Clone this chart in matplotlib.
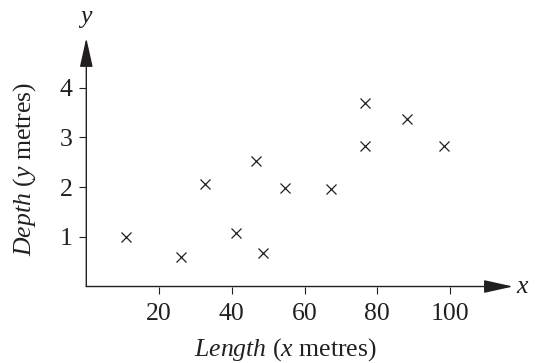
import matplotlib.pyplot as plt

# Depth vs length readings
length = [11, 26, 32.6, 41.1, 46.7, 48.5, 54.5, 67.2, 76.6, 76.6, 88.3, 98.4]
depth = [1.0, 0.6, 2.06, 1.07, 2.53, 0.68, 1.99, 1.96, 3.70, 2.83, 3.38, 2.83]
xticks = [20, 40, 60, 80, 100]
yticks = [1, 2, 3, 4]

ink = '#231f20'
plt.rcParams['font.family'] = 'Liberation Serif'
plt.rcParams['mathtext.fontset'] = 'custom'
plt.rcParams['mathtext.rm'] = 'Liberation Serif'
plt.rcParams['mathtext.it'] = 'Liberation Serif:italic'

fig = plt.figure(figsize=(5.36, 3.63), dpi=100)
ax = fig.add_axes([0.161, 0.2107, 0.796, 0.6846])

ax.plot(length, depth, linestyle='none', marker='x', markersize=6.5,
        markeredgewidth=0.9, color=ink)

ax.set_xlim(0, 117.3)
ax.set_ylim(0, 5)
for s in ax.spines.values():
    s.set_visible(False)

# axes drawn as arrows
arrow = dict(arrowstyle='-|>,head_length=1.8,head_width=0.4', lw=1.0,
             color=ink, shrinkA=0, shrinkB=0)
ax.annotate('', xy=(1, 0), xytext=(0, 0), xycoords='axes fraction',
            textcoords='axes fraction', arrowprops=arrow, annotation_clip=False)
ax.annotate('', xy=(0, 1), xytext=(0, 0), xycoords='axes fraction',
            textcoords='axes fraction', arrowprops=arrow, annotation_clip=False)

ax.set_xticks(xticks)
ax.set_yticks(yticks)
ax.tick_params(direction='out', length=5, width=0.8, color=ink,
               labelcolor=ink, labelsize=18.5)
ax.tick_params(axis='x', pad=7)
ax.tick_params(axis='y', pad=5)

ax.text(1.009, 0, 'x', transform=ax.transAxes, fontsize=18.5, style='italic',
        color=ink, va='center', ha='left')
ax.text(0, 1.04, 'y', transform=ax.transAxes, fontsize=18.5, style='italic',
        color=ink, va='bottom', ha='center')

ax.set_xlabel(r'$\mathit{Length}$ ($\mathit{x}$ metres)', fontsize=18.5, color=ink)
ax.set_ylabel(r'$\mathit{Depth}$ ($\mathit{y}$ metres)', fontsize=18.5, color=ink)
ax.xaxis.set_label_coords(0.466, -0.2)
ax.yaxis.set_label_coords(-0.113, 0.473)

fig.savefig('out.png', dpi=100)
